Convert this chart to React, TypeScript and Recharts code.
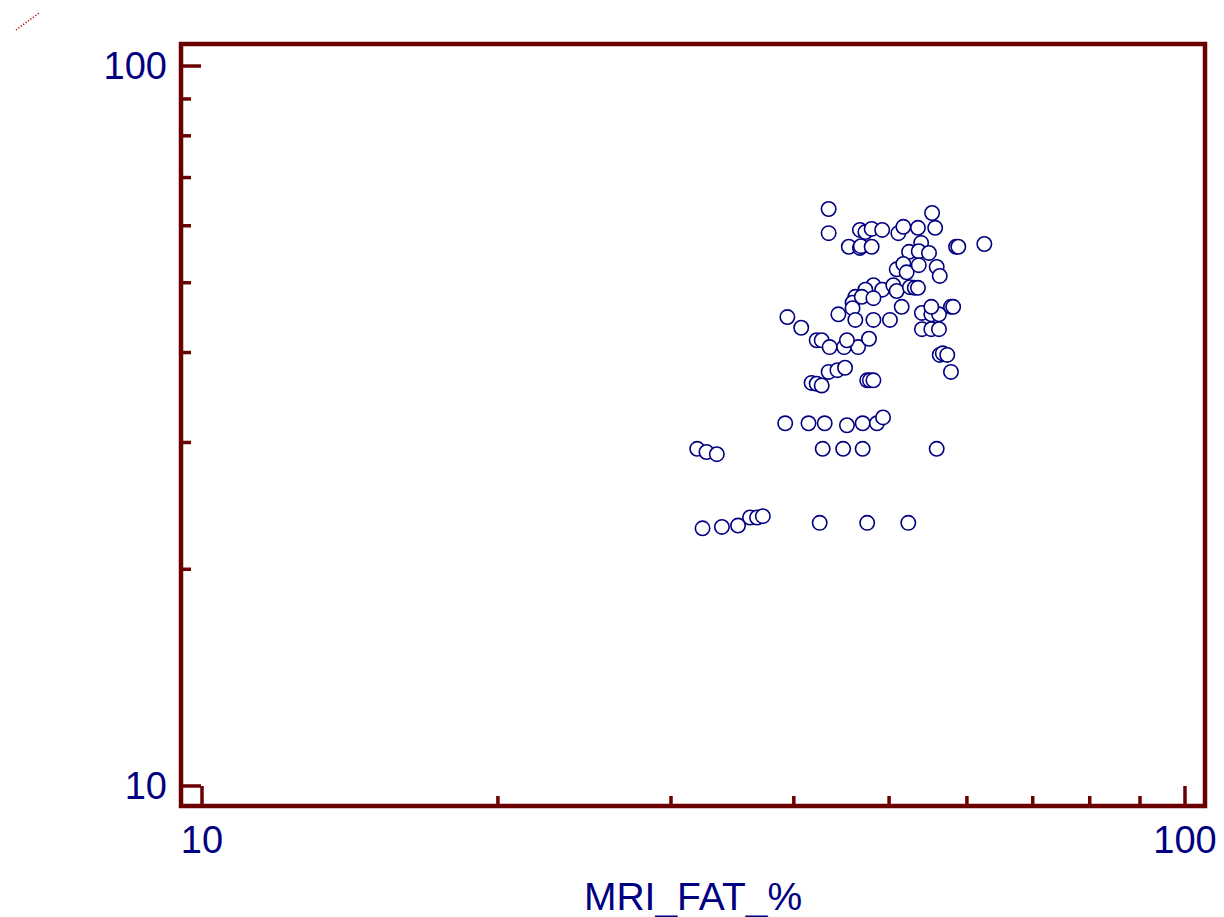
import { ScatterChart, Scatter, XAxis, YAxis, ReferenceArea } from 'recharts';

// x = MRI_FAT_%, y = the paired measurement (axis untitled in the source)
const mriFat = [
  43.4, 55.3, 43.4, 46.7, 47.3, 48.0, 49.2, 51.1, 51.7, 53.5,
  55.7, 45.5, 46.7, 46.8, 48.0, 53.9, 52.4, 53.6, 54.9, 58.5,
  58.8, 62.5, 50.9, 51.7, 52.1, 53.6, 55.9, 56.3, 48.2, 47.3,
  49.2, 50.5, 50.9, 52.5, 53.1, 53.5, 46.2, 45.9, 45.9, 46.9,
  48.2, 44.4, 39.4, 40.7, 42.2, 42.7, 43.5, 45.0, 46.5, 45.3,
  47.7, 46.2, 48.2, 50.1, 51.5, 54.0, 55.2, 56.2, 55.2, 57.8,
  58.1, 54.0, 55.2, 56.2, 56.3, 56.7, 57.3, 57.8, 41.7, 42.2,
  42.7, 43.4, 44.3, 45.1, 47.5, 47.8, 48.2, 39.2, 41.4, 43.0,
  45.3, 47.0, 48.6, 49.3, 31.9, 32.6, 33.4, 42.8, 44.9, 47.0,
  55.9, 32.3, 33.8, 35.1, 36.1, 36.7, 37.2, 42.5, 47.5, 52.3,
];
const yValues = [
  63.3, 62.5, 58.6, 59.2, 58.8, 59.4, 59.2, 58.6, 59.8, 59.6,
  59.6, 56.1, 55.9, 56.2, 56.1, 56.8, 55.2, 55.3, 55.0, 56.1,
  56.1, 56.6, 52.2, 53.1, 51.7, 52.9, 52.6, 51.1, 49.6, 48.9,
  48.9, 49.6, 48.7, 49.3, 49.2, 49.2, 47.8, 46.9, 46.1, 47.8,
  47.6, 45.2, 44.8, 43.3, 41.6, 41.6, 40.7, 40.7, 40.7, 41.6,
  41.8, 44.4, 44.4, 44.4, 46.3, 45.4, 45.2, 45.2, 46.3, 46.3,
  46.3, 43.1, 43.1, 43.1, 39.7, 39.9, 39.7, 37.6, 36.3, 36.2,
  36.0, 37.6, 37.8, 38.1, 36.6, 36.6, 36.6, 31.9, 31.9, 31.9,
  31.7, 31.9, 31.9, 32.5, 29.4, 29.1, 28.9, 29.4, 29.4, 29.4,
  29.4, 22.8, 22.9, 23.0, 23.6, 23.6, 23.7, 23.2, 23.2, 23.2,
];

const logTicks = [10, 20, 30, 40, 50, 60, 70, 80, 90, 100];
const labelledTicks = [10, 100];
const xDomain = [9.52, 104.8];
const yDomain = [9.38, 107.3];

const points = mriFat.map((x, i) => ({ x, y: yValues[i] }));

const FRAME = '#6a0000';
const NAVY = '#000080';
const FONT = '"Liberation Sans", Arial, sans-serif';

const XTick = (props: any) => {
  const { x, y, payload } = props;
  const major = labelledTicks.includes(payload.value);
  return (
    <g>
      <line x1={x} x2={x} y1={y} y2={y - (major ? 20 : 10)} stroke={FRAME} strokeWidth={3.5} />
      {major && (
        <text x={x} y={y + 47} textAnchor="middle" fill={NAVY} fontSize={38} fontFamily={FONT}>
          {payload.value}
        </text>
      )}
    </g>
  );
};

const YTick = (props: any) => {
  const { x, y, payload } = props;
  const major = labelledTicks.includes(payload.value);
  return (
    <g>
      <line x1={x} x2={x + (major ? 20 : 10)} y1={y} y2={y} stroke={FRAME} strokeWidth={3.5} />
      {major && (
        <text x={x - 14} y={y + 13} textAnchor="end" fill={NAVY} fontSize={38} fontFamily={FONT}>
          {payload.value}
        </text>
      )}
    </g>
  );
};

const Ring = (props: any) => (
  <circle cx={props.cx} cy={props.cy} r={7.2} fill="#ffffff" stroke={NAVY} strokeWidth={1.6} />
);

export default function App() {
  return (
    <div style={{ position: 'absolute', left: 0, top: 0, width: 1224, height: 917, background: '#fff' }}>
      <svg width={60} height={40} style={{ position: 'absolute', left: 0, top: 0 }}>
        <line x1={16} y1={30} x2={39} y2={13} stroke="#b00000" strokeWidth={1.5} strokeDasharray="1.2 1.8" />
      </svg>
      <ScatterChart width={1224} height={917} margin={{ top: 44, right: 19, left: 0, bottom: 0 }}>
        <XAxis
          type="number"
          dataKey="x"
          scale="log"
          domain={xDomain}
          allowDataOverflow
          ticks={logTicks}
          interval={0}
          height={111}
          axisLine={false}
          tickLine={false}
          tickSize={0}
          tickMargin={0}
          tick={XTick}
          label={{ value: 'MRI_FAT_%', position: 'insideBottom', offset: 7, fill: NAVY, fontSize: 39, fontFamily: FONT }}
        />
        <YAxis
          type="number"
          dataKey="y"
          scale="log"
          domain={yDomain}
          allowDataOverflow
          ticks={logTicks}
          interval={0}
          width={181}
          axisLine={false}
          tickLine={false}
          tickSize={0}
          tickMargin={0}
          tick={YTick}
        />
        <ReferenceArea
          x1={xDomain[0]}
          x2={xDomain[1]}
          y1={yDomain[0]}
          y2={yDomain[1]}
          fill="none"
          stroke={FRAME}
          strokeWidth={4.5}
          ifOverflow="visible"
        />
        <Scatter data={points} shape={Ring} isAnimationActive={false} />
      </ScatterChart>
    </div>
  );
}
